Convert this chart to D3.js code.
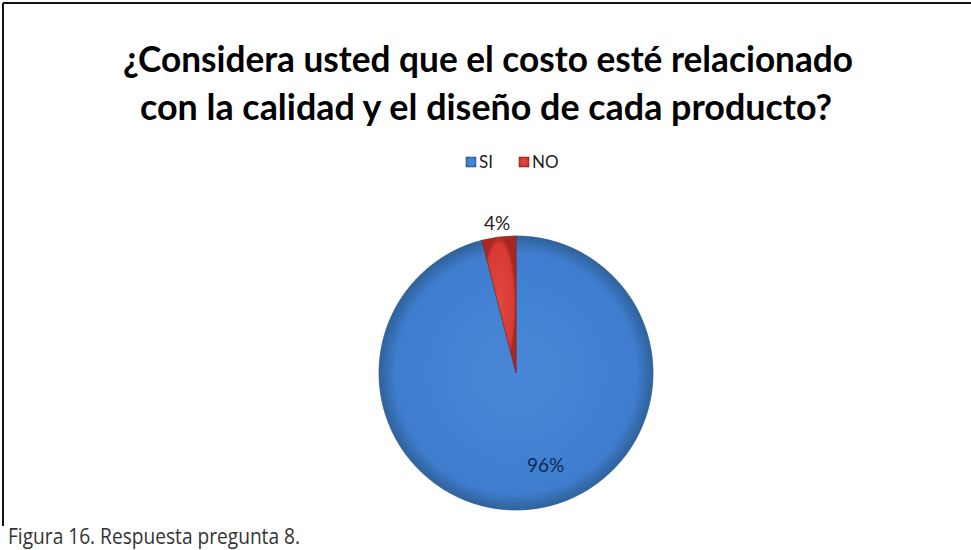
<!DOCTYPE html>
<html>
<head>
<meta charset="utf-8">
<script src="https://cdn.jsdelivr.net/npm/d3@7"></script>
<style>
  body { margin: 0; background: #fff; }
  svg { display: block; }
</style>
</head>
<body>
<div id="chart"></div>
<script>
var width = 971;
var height = 550;

// data
var categories = ["SI", "NO"];
var values = [96, 4];
var colors = ["#3f7dcf", "#d63a33"];
var titleLines = ["¿Considera usted que el costo esté relacionado", "con la calidad y el diseño de cada producto?"];
var caption = "Figura 16. Respuesta pregunta 8.";

var svg = d3.select("#chart").append("svg")
	.attr("width", width)
	.attr("height", height);

var defs = svg.append("defs");
// gradients to fake the office style shading
var grads = [["#4987d6", "#30629a"], ["#e2483f", "#a82722"]];
grads.forEach(function(g, i) {
	var rg = defs.append("radialGradient")
		.attr("id", "grad" + i)
		.attr("cx", "50%").attr("cy", "50%").attr("r", "50%");
	rg.append("stop").attr("offset", "0%").attr("stop-color", g[0]);
	rg.append("stop").attr("offset", "88%").attr("stop-color", colors[i]);
	rg.append("stop").attr("offset", "100%").attr("stop-color", g[1]);
});

// frame (only top and left visible)
svg.append("line").attr("x1", 3).attr("y1", 3).attr("x2", width).attr("y2", 3)
	.style("stroke", "#111").style("stroke-width", 2);
svg.append("line").attr("x1", 3).attr("y1", 3).attr("x2", 3).attr("y2", 526)
	.style("stroke", "#111").style("stroke-width", 2);

// title
var titleSpans = [[123, 853, 72], [140, 832, 120]];
svg.selectAll(".title")
	.data(titleLines)
	.enter().append("text")
	.attr("class", "title")
	.attr("x", function(d, i) { return titleSpans[i][0]; })
	.attr("y", function(d, i) { return titleSpans[i][2]; })
	.attr("textLength", function(d, i) { return titleSpans[i][1] - titleSpans[i][0]; })
	.attr("lengthAdjust", "spacingAndGlyphs")
	.text(function(d) { return d; })
	.attr("font-family", "Lato, 'Open Sans', sans-serif")
	.attr("font-size", "36px")
	.attr("font-weight", "bold")
	.attr("fill", "#000");

// legend
var legendX = d3.scaleOrdinal().domain(categories).range([466, 519]);
var legend = svg.selectAll(".legend")
	.data(categories)
	.enter().append("g")
	.attr("class", "legend")
	.attr("transform", function(d) { return "translate(" + legendX(d) + ",157)"; });
legend.append("rect")
	.attr("width", 10).attr("height", 10)
	.attr("fill", function(d, i) { return "url(#grad" + i + ")"; })
	.attr("stroke", function(d, i) { return i == 0 ? "#2d5f9e" : "#9e2a25"; })
	.attr("stroke-width", 0.6);
legend.append("text")
	.attr("x", 13).attr("y", 11)
	.text(function(d) { return d; })
	.attr("font-family", "Lato, 'Open Sans', sans-serif")
	.attr("font-size", "17px")
	.attr("fill", "#222");

// pie
var cx = 516, cy = 373, r = 137;
var pie = d3.pie().sort(null);
var arcs = pie(values);
var arc = d3.arc().innerRadius(0).outerRadius(r);

var g = svg.append("g").attr("transform", "translate(" + cx + "," + cy + ")");
g.selectAll(".slice")
	.data(arcs)
	.enter().append("path")
	.attr("class", "slice")
	.attr("d", arc)
	.attr("fill", function(d, i) { return "url(#grad" + i + ")"; })
	.attr("stroke", function(d, i) { return i == 0 ? "#2f5f9c" : "#8f2622"; })
	.attr("stroke-width", 0.8);

// labels: 96% inside, 4% outside above
var inArc = d3.arc().innerRadius(r * 0.68).outerRadius(r * 0.68);
var outArc = d3.arc().innerRadius(r * 1.1).outerRadius(r * 1.1);
g.selectAll(".label")
	.data(arcs)
	.enter().append("text")
	.attr("class", "label")
	.attr("transform", function(d, i) {
		var p = i == 0 ? inArc.centroid(d) : outArc.centroid(d);
		return "translate(" + p[0] + "," + p[1] + ")";
	})
	.attr("dx", function(d, i) { return i == 0 ? 18 : 0; })
	.attr("text-anchor", "middle")
	.attr("dy", "0.35em")
	.text(function(d, i) { return values[i] + "%"; })
	.attr("font-family", "Lato, 'Open Sans', sans-serif")
	.attr("font-size", "19px")
	.attr("fill", function(d, i) { return i == 0 ? "#0f2a55" : "#222"; });

// caption under the frame
svg.append("text")
	.attr("x", 8).attr("y", 544)
	.attr("textLength", 292)
	.attr("lengthAdjust", "spacingAndGlyphs")
	.text(caption)
	.attr("font-family", "'Open Sans', sans-serif")
	.attr("font-size", "21px")
	.attr("fill", "#333");
</script>
</body>
</html>
